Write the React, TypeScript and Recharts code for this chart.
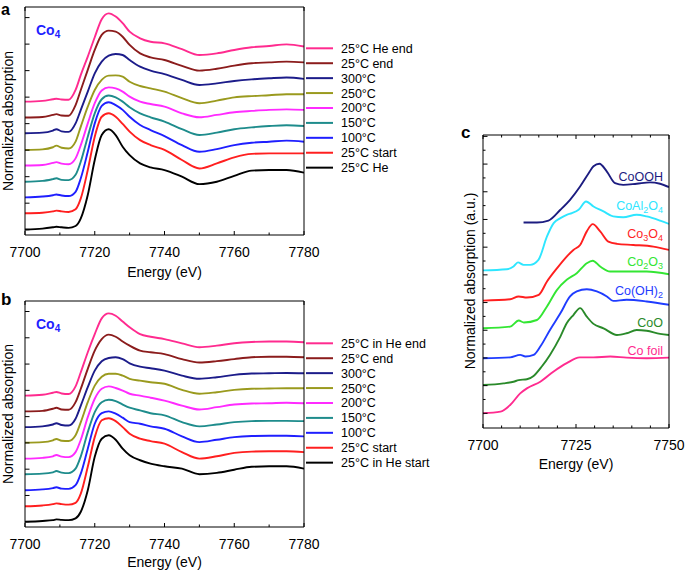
import React from "react";
import { LineChart, Line, XAxis, YAxis } from "recharts";

// ---- data (a.u., curves already offset as in the figure) ----
const energy = [7700, 7705, 7708, 7709, 7710.5, 7712.5, 7714.5, 7716, 7718, 7720, 7722, 7724, 7726, 7728, 7730, 7733, 7736, 7740, 7745, 7750, 7755, 7760, 7765, 7770, 7775, 7780];

// panel a
const aHeEnd = [4.83, 4.86, 4.92, 4.94, 4.91, 4.9, 5.27, 5.84, 6.53, 7.26, 7.94, 8.16, 8.04, 7.79, 7.47, 7.22, 7.09, 7.03, 6.81, 6.59, 6.65, 6.78, 6.88, 6.93, 6.99, 6.91];
const aEnd = [4.23, 4.25, 4.33, 4.36, 4.31, 4.3, 4.7, 5.27, 6.03, 6.78, 7.35, 7.51, 7.47, 7.28, 6.97, 6.65, 6.5, 6.4, 6.18, 6.0, 6.07, 6.19, 6.28, 6.31, 6.34, 6.31];
const a300 = [3.64, 3.66, 3.74, 3.79, 3.71, 3.69, 4.01, 4.52, 5.21, 5.9, 6.34, 6.57, 6.63, 6.59, 6.4, 6.15, 6.0, 5.87, 5.65, 5.46, 5.52, 5.61, 5.67, 5.71, 5.74, 5.69];
const a250 = [3.01, 3.03, 3.11, 3.17, 3.09, 3.06, 3.32, 3.89, 4.64, 5.27, 5.65, 5.81, 5.82, 5.77, 5.58, 5.42, 5.33, 5.21, 4.96, 4.77, 4.87, 4.99, 5.04, 5.07, 5.11, 5.11];
const a200 = [2.42, 2.44, 2.52, 2.55, 2.49, 2.47, 2.69, 3.19, 4.01, 4.77, 5.25, 5.37, 5.33, 5.21, 5.02, 4.83, 4.74, 4.64, 4.39, 4.24, 4.33, 4.43, 4.48, 4.52, 4.54, 4.52];
const a150 = [1.81, 1.84, 1.91, 1.94, 1.88, 1.87, 2.07, 2.57, 3.51, 4.39, 4.92, 5.06, 4.99, 4.83, 4.62, 4.39, 4.24, 4.08, 3.79, 3.57, 3.66, 3.79, 3.86, 3.91, 3.94, 3.91];
const a100 = [1.22, 1.25, 1.3, 1.33, 1.29, 1.27, 1.43, 1.94, 2.94, 4.01, 4.67, 4.81, 4.7, 4.52, 4.26, 3.95, 3.76, 3.53, 3.19, 2.94, 3.04, 3.19, 3.28, 3.32, 3.36, 3.32];
const aStart = [0.62, 0.64, 0.69, 0.72, 0.69, 0.67, 0.77, 1.18, 2.25, 3.51, 4.26, 4.39, 4.26, 3.99, 3.7, 3.38, 3.19, 3.01, 2.63, 2.31, 2.5, 2.73, 2.86, 2.88, 2.88, 2.88];
const aHe = [0.01, 0.04, 0.09, 0.11, 0.09, 0.07, 0.14, 0.43, 1.31, 2.63, 3.57, 3.79, 3.57, 3.13, 2.81, 2.5, 2.35, 2.25, 2.0, 1.72, 1.81, 2.03, 2.23, 2.25, 2.25, 2.15];

// panel b
const bHeEnd = [4.8, 4.83, 4.91, 4.94, 4.88, 4.86, 5.15, 5.69, 6.45, 7.14, 7.74, 7.93, 7.84, 7.62, 7.4, 7.14, 7.04, 6.95, 6.79, 6.64, 6.7, 6.79, 6.84, 6.86, 6.86, 6.83];
const bEnd = [4.2, 4.22, 4.3, 4.34, 4.27, 4.26, 4.55, 5.06, 5.82, 6.51, 6.95, 7.12, 7.04, 6.86, 6.7, 6.51, 6.45, 6.38, 6.19, 6.06, 6.11, 6.19, 6.26, 6.28, 6.28, 6.26];
const b300 = [3.6, 3.63, 3.7, 3.75, 3.68, 3.66, 3.92, 4.42, 5.12, 5.75, 6.11, 6.23, 6.26, 6.19, 6.03, 5.9, 5.84, 5.75, 5.56, 5.44, 5.5, 5.59, 5.64, 5.65, 5.66, 5.65];
const b250 = [3.01, 3.03, 3.1, 3.15, 3.08, 3.07, 3.29, 3.79, 4.55, 5.18, 5.52, 5.63, 5.63, 5.56, 5.44, 5.37, 5.31, 5.25, 5.02, 4.87, 4.93, 5.02, 5.06, 5.07, 5.08, 5.08];
const b200 = [2.4, 2.43, 2.49, 2.54, 2.48, 2.46, 2.65, 3.12, 3.98, 4.68, 5.06, 5.15, 5.09, 4.99, 4.87, 4.8, 4.72, 4.61, 4.42, 4.27, 4.36, 4.46, 4.5, 4.51, 4.53, 4.51];
const b150 = [1.81, 1.83, 1.88, 1.93, 1.87, 1.85, 2.02, 2.49, 3.41, 4.17, 4.55, 4.64, 4.59, 4.46, 4.34, 4.24, 4.13, 4.05, 3.79, 3.63, 3.7, 3.79, 3.83, 3.84, 3.84, 3.83];
const b100 = [1.2, 1.23, 1.28, 1.31, 1.26, 1.25, 1.39, 1.83, 2.78, 3.73, 4.13, 4.2, 4.11, 3.96, 3.79, 3.73, 3.63, 3.54, 3.25, 3.03, 3.12, 3.22, 3.26, 3.27, 3.27, 3.25];
const bStart = [0.59, 0.62, 0.67, 0.7, 0.67, 0.65, 0.72, 1.07, 2.09, 3.22, 3.86, 3.94, 3.83, 3.6, 3.35, 3.16, 3.07, 2.97, 2.65, 2.4, 2.49, 2.62, 2.67, 2.68, 2.68, 2.65];
const bHeStart = [0.0, 0.03, 0.06, 0.09, 0.07, 0.06, 0.13, 0.38, 1.2, 2.47, 3.16, 3.29, 3.12, 2.78, 2.53, 2.34, 2.21, 2.11, 2.02, 1.81, 1.86, 1.98, 2.09, 2.11, 2.11, 2.02];

// panel c (references), each with its own energy grid
const foilE = [7700, 7704.7, 7707.3, 7710, 7711.8, 7715.4, 7719, 7722.5, 7726, 7729.7, 7734.2, 7738.6, 7744, 7750];
const foilV = [0, 0.06, 0.3, 0.72, 0.9, 1.14, 1.51, 1.81, 2.02, 2.02, 2.05, 2.01, 1.99, 2.01];
const cooE = [7700, 7705.5, 7708.2, 7709.6, 7711.8, 7713.6, 7715.8, 7718, 7720.8, 7722.5, 7724.3, 7726.1, 7727.9, 7729.7, 7732.4, 7736, 7738.6, 7741.3, 7744, 7747.6, 7750];
const cooV = [1.02, 1.08, 1.14, 1.2, 1.23, 1.35, 1.69, 2.11, 2.77, 3.25, 3.55, 3.8, 3.49, 3.23, 3.07, 2.83, 2.89, 3.01, 2.98, 2.87, 2.83];
const ohE = [7700, 7707.3, 7710, 7711.4, 7713.6, 7715.4, 7718, 7720.8, 7723.4, 7725.2, 7727.9, 7730.6, 7733.3, 7735, 7738.6, 7744, 7750];
const ohV = [1.99, 2.02, 2.11, 2.05, 2.11, 2.41, 3.01, 3.61, 4.22, 4.4, 4.48, 4.4, 4.22, 4.06, 4.1, 4.04, 3.92];
const c2o3E = [7700, 7707.3, 7709.6, 7711, 7714.5, 7717.2, 7719.9, 7722.5, 7725.2, 7727.9, 7729.5, 7731.5, 7734.2, 7738.6, 7744, 7750];
const c2o3V = [3.07, 3.13, 3.35, 3.28, 3.37, 3.86, 4.46, 4.82, 5.06, 5.42, 5.51, 5.3, 5.12, 5.12, 5.12, 5.02];
const c3o4E = [7700, 7707.3, 7709.6, 7711.8, 7715, 7717.2, 7719.9, 7722.5, 7724.3, 7726.1, 7727.9, 7729.5, 7731.5, 7733.7, 7736, 7740.4, 7745.8, 7750];
const c3o4V = [4.07, 4.12, 4.22, 4.18, 4.28, 4.76, 5.24, 5.66, 5.9, 6.08, 6.57, 6.83, 6.57, 6.2, 6.12, 6.08, 6.02, 5.9];
const alE = [7700, 7706.4, 7708.2, 7709.4, 7710.9, 7712.7, 7714.9, 7717.2, 7719, 7720.8, 7722.5, 7723.9, 7725.7, 7727.7, 7729.7, 7732.4, 7735, 7737.7, 7741.3, 7744, 7747.6, 7750];
const alV = [5.16, 5.2, 5.3, 5.45, 5.36, 5.36, 5.54, 6.39, 6.87, 7.05, 7.17, 7.23, 7.35, 7.65, 7.47, 7.29, 7.11, 7.08, 7.17, 7.11, 6.96, 6.84];
const oohE = [7710.9, 7714.5, 7717.6, 7720.8, 7723.4, 7726.1, 7728.4, 7729.7, 7731.3, 7733.3, 7735.5, 7737.7, 7741.3, 7744.9, 7747.6, 7750];
const oohV = [6.89, 6.89, 6.96, 7.35, 7.71, 8.19, 8.67, 8.92, 9.01, 8.73, 8.31, 8.25, 8.29, 8.34, 8.29, 8.17];

const abXTicks = [7700, 7710, 7720, 7730, 7740, 7750, 7760, 7770, 7780];
const abXMajor = [7700, 7720, 7740, 7760, 7780];
const abYTicks = [0, 1, 2, 3, 4, 5, 6, 7, 8];
const cXTicks = [7700, 7705, 7710, 7715, 7720, 7725, 7730, 7735, 7740, 7745, 7750];
const cXMajor = [7700, 7725, 7750];
const cYTicks = [0, 0.5, 1, 1.5, 2, 2.5, 3, 3.5, 4, 4.5, 5, 5.5, 6, 6.5, 7, 7.5, 8, 8.5, 9, 9.5, 10];
const cYMajor = [0, 1, 2, 3, 4, 5, 6, 7, 8, 9, 10];

const FONT = "'Liberation Sans', Arial, Helvetica, sans-serif";

const seriesA = [
  { key: "heEnd", name: "25°C He end", color: "#ff2b8f", values: aHeEnd },
  { key: "end", name: "25°C end", color: "#8b1c1c", values: aEnd },
  { key: "t300", name: "300°C", color: "#1c1c8a", values: a300 },
  { key: "t250", name: "250°C", color: "#9a9a1e", values: a250 },
  { key: "t200", name: "200°C", color: "#ff2bff", values: a200 },
  { key: "t150", name: "150°C", color: "#1e8c8c", values: a150 },
  { key: "t100", name: "100°C", color: "#1f1fff", values: a100 },
  { key: "start", name: "25°C start", color: "#ff1f1f", values: aStart },
  { key: "he", name: "25°C He", color: "#000000", values: aHe },
];

const seriesB = [
  { key: "heEnd", name: "25°C in He end", color: "#ff2b8f", values: bHeEnd },
  { key: "end", name: "25°C end", color: "#8b1c1c", values: bEnd },
  { key: "t300", name: "300°C", color: "#1c1c8a", values: b300 },
  { key: "t250", name: "250°C", color: "#9a9a1e", values: b250 },
  { key: "t200", name: "200°C", color: "#ff2bff", values: b200 },
  { key: "t150", name: "150°C", color: "#1e8c8c", values: b150 },
  { key: "t100", name: "100°C", color: "#1f1fff", values: b100 },
  { key: "start", name: "25°C start", color: "#ff1f1f", values: bStart },
  { key: "heStart", name: "25°C in He start", color: "#000000", values: bHeStart },
];

const seriesC = [
  { key: "CoOOH", color: "#1c1c80", e: oohE, v: oohV, labelY: 181 },
  { key: "CoAl2O4", color: "#2ee6ff", e: alE, v: alV, labelY: 210 },
  { key: "Co3O4", color: "#ff1f1f", e: c3o4E, v: c3o4V, labelY: 238 },
  { key: "Co2O3", color: "#33e633", e: c2o3E, v: c2o3V, labelY: 266 },
  { key: "Co(OH)2", color: "#1f3cff", e: ohE, v: ohV, labelY: 295 },
  { key: "CoO", color: "#2a8a2a", e: cooE, v: cooV, labelY: 327 },
  { key: "Co foil", color: "#ff2b8f", e: foilE, v: foilV, labelY: 355 },
];

type Row = Record<string, number>;

function makeRows(series: { key: string; values: number[] }[]) {
  return energy.map((e, i) => {
    const row: Row = { e };
    series.forEach((s) => {
      row[s.key] = s.values[i];
    });
    return row;
  });
}

// subscripts for digits in chemical formulas
function chem(label: string, subSize: number) {
  return label
    .split(/(\d+)/)
    .filter(Boolean)
    .map((part, i) =>
      /^\d+$/.test(part) ? (
        <tspan key={i} fontSize={subSize} dy={3}>
          {part}
        </tspan>
      ) : (
        <tspan key={i} dy={i > 0 ? -3 : 0}>
          {part}
        </tspan>
      ),
    );
}

const bottomTick = (majors: number[]) => (props: any) => {
  const { x, y, payload } = props;
  const major = majors.includes(payload.value);
  return (
    <g>
      <line x1={x} x2={x} y1={y} y2={y - (major ? 4 : 2.5)} stroke="#000" />
      {major && (
        <text x={x} y={y + 22} textAnchor="middle" fontSize={14} fill="#000">
          {payload.value}
        </text>
      )}
    </g>
  );
};

const topTick = (majors: number[]) => (props: any) => {
  const { x, y, payload } = props;
  const major = majors.includes(payload.value);
  return <line x1={x} x2={x} y1={y} y2={y + (major ? 4 : 2.5)} stroke="#000" />;
};

const leftTick = (majors: number[]) => (props: any) => {
  const { x, y, payload } = props;
  const major = majors.includes(payload.value);
  return <line x1={x} x2={x + (major ? 4.5 : 2.5)} y1={y} y2={y} stroke="#000" />;
};

const emptyTick = () => <g />;

type LineSpec = { key: string; color: string; data?: Row[]; dataKey: string };

function XasChart(props: {
  box: { left: number; top: number; width: number; height: number };
  plot: { x0: number; x1: number; y0: number; y1: number };
  xDomain: [number, number];
  xTicks: number[];
  xMajor: number[];
  topTicks: number[];
  yDomain: [number, number];
  yTicks: number[];
  yMajor: number[];
  data?: Row[];
  lines: LineSpec[];
}) {
  const { box, plot } = props;
  const margin = {
    top: plot.y0 - box.top - 1,
    bottom: box.top + box.height - plot.y1 - 1,
    left: plot.x0 - box.left - 1,
    right: box.left + box.width - plot.x1 - 1,
  };
  return (
    <div style={{ position: "absolute", left: box.left, top: box.top }}>
      <LineChart width={box.width} height={box.height} data={props.data} margin={margin}>
        <XAxis
          xAxisId="bottom"
          dataKey="e"
          type="number"
          domain={props.xDomain}
          allowDataOverflow
          ticks={props.xTicks}
          interval={0}
          height={1}
          tickSize={0}
          tickMargin={0}
          tickLine={false}
          axisLine={{ stroke: "#000" }}
          tick={bottomTick(props.xMajor)}
        />
        <XAxis
          xAxisId="top"
          orientation="top"
          dataKey="e"
          type="number"
          domain={props.xDomain}
          allowDataOverflow
          ticks={props.topTicks}
          interval={0}
          height={1}
          tickSize={0}
          tickMargin={0}
          tickLine={false}
          axisLine={{ stroke: "#000" }}
          tick={topTick(props.xMajor)}
        />
        <YAxis
          yAxisId="left"
          type="number"
          domain={props.yDomain}
          allowDataOverflow
          ticks={props.yTicks}
          interval={0}
          width={1}
          tickSize={0}
          tickMargin={0}
          tickLine={false}
          axisLine={{ stroke: "#000" }}
          tick={leftTick(props.yMajor)}
        />
        <YAxis
          yAxisId="right"
          orientation="right"
          type="number"
          domain={props.yDomain}
          allowDataOverflow
          ticks={[props.yDomain[0]]}
          width={1}
          tickSize={0}
          tickLine={false}
          axisLine={{ stroke: "#000" }}
          tick={emptyTick}
        />
        {props.lines.map((l) => (
          <Line
            key={l.key}
            xAxisId="bottom"
            yAxisId="left"
            data={l.data}
            dataKey={l.dataKey}
            type="monotone"
            stroke={l.color}
            strokeWidth={1.9}
            dot={false}
            isAnimationActive={false}
          />
        ))}
      </LineChart>
    </div>
  );
}

export default function App() {
  const rowsA = makeRows(seriesA);
  const rowsB = makeRows(seriesB);
  const linesC: LineSpec[] = seriesC.map((s) => ({
    key: s.key,
    color: s.color,
    dataKey: "v",
    data: s.e.map((e, i) => ({ e, v: s.v[i] })),
  }));

  return (
    <div
      style={{
        position: "absolute",
        left: 0,
        top: 0,
        width: 685,
        height: 574,
        background: "#fff",
        fontFamily: FONT,
        overflow: "hidden",
      }}
    >
      <XasChart
        box={{ left: 0, top: 0, width: 330, height: 284 }}
        plot={{ x0: 25, x1: 304, y0: 7, y1: 235 }}
        xDomain={[7700, 7780]}
        xTicks={abXTicks}
        xMajor={abXMajor}
        topTicks={[7700, 7780]}
        yDomain={[-0.2, 8.4]}
        yTicks={abYTicks}
        yMajor={abYTicks}
        data={rowsA}
        lines={seriesA.map((s) => ({ key: s.key, color: s.color, dataKey: s.key }))}
      />
      <XasChart
        box={{ left: 0, top: 290, width: 330, height: 284 }}
        plot={{ x0: 25, x1: 304, y0: 301, y1: 527 }}
        xDomain={[7700, 7780]}
        xTicks={abXTicks}
        xMajor={abXMajor}
        topTicks={[7700, 7780]}
        yDomain={[-0.2, 8.4]}
        yTicks={abYTicks}
        yMajor={abYTicks}
        data={rowsB}
        lines={seriesB.map((s) => ({ key: s.key, color: s.color, dataKey: s.key }))}
      />
      <XasChart
        box={{ left: 460, top: 120, width: 225, height: 340 }}
        plot={{ x0: 483, x1: 669, y0: 135, y1: 428 }}
        xDomain={[7700, 7750]}
        xTicks={cXTicks}
        xMajor={cXMajor}
        topTicks={cXTicks}
        yDomain={[-0.53, 10.05]}
        yTicks={cYTicks}
        yMajor={cYMajor}
        lines={linesC}
      />

      <svg width={685} height={574} style={{ position: "absolute", left: 0, top: 0 }} fontFamily={FONT}>
        <text x={1} y={15} fontSize={16} fontWeight="bold">a</text>
        <text x={1} y={305} fontSize={17} fontWeight="bold">b</text>
        <text x={461} y={138} fontSize={17} fontWeight="bold">c</text>

        <text x={36} y={35} fontSize={14} fontWeight="bold" fill="#1f1fff">{chem("Co4", 10)}</text>
        <text x={36} y={329} fontSize={14} fontWeight="bold" fill="#1f1fff">{chem("Co4", 10)}</text>

        <text transform="translate(13,121) rotate(-90)" textAnchor="middle" fontSize={14}>Normalized absorption</text>
        <text transform="translate(13,414) rotate(-90)" textAnchor="middle" fontSize={14}>Normalized absorption</text>
        <text transform="translate(475,281) rotate(-90)" textAnchor="middle" fontSize={14}>Normalized absorption (a.u.)</text>

        <text x={164.5} y={277} textAnchor="middle" fontSize={14}>Energy (eV)</text>
        <text x={164.5} y={567} textAnchor="middle" fontSize={14}>Energy (eV)</text>
        <text x={576} y={469} textAnchor="middle" fontSize={14}>Energy (eV)</text>

        {seriesA.map((s, i) => (
          <g key={"la" + s.key}>
            <line x1={306} x2={333} y1={48.3 + i * 14.92} y2={48.3 + i * 14.92} stroke={s.color} strokeWidth={2} />
            <text x={341} y={48.3 + i * 14.92 + 4.5} fontSize={12.5}>{s.name}</text>
          </g>
        ))}
        {seriesB.map((s, i) => (
          <g key={"lb" + s.key}>
            <line x1={306} x2={333} y1={343.3 + i * 14.92} y2={343.3 + i * 14.92} stroke={s.color} strokeWidth={2} />
            <text x={341} y={343.3 + i * 14.92 + 4.5} fontSize={12.5}>{s.name}</text>
          </g>
        ))}
        {seriesC.map((s) => (
          <text key={"lc" + s.key} x={663} y={s.labelY} textAnchor="end" fontSize={12.5} fill={s.color}>
            {chem(s.key, 9)}
          </text>
        ))}
      </svg>
    </div>
  );
}
